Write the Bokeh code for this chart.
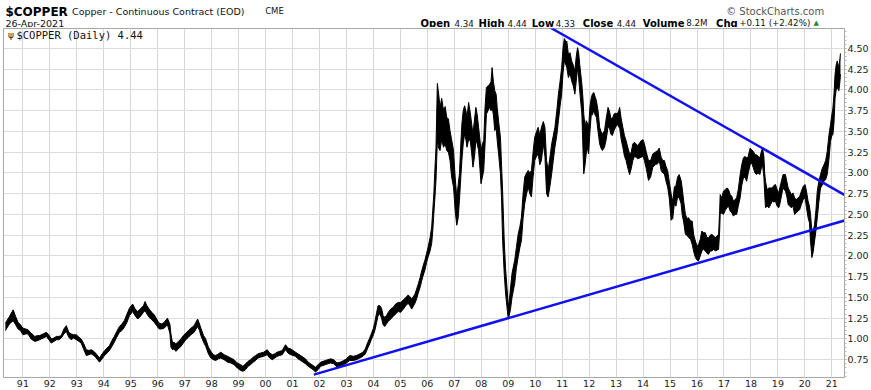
import numpy as np
from bokeh.plotting import figure
from bokeh.models import Label, FixedTicker, Range1d, ColumnDataSource
from bokeh.layouts import column
from bokeh.embed import file_html
from bokeh.resources import INLINE

# ---------------- data ----------------
# fractional year, daily low envelope, daily high envelope
dates = [
    1990.35, 1990.50, 1990.64, 1990.73, 1990.82, 1990.91, 1991.00, 1991.10, 1991.19, 1991.30,
    1991.44, 1991.55, 1991.62, 1991.75, 1991.87, 1991.96, 1992.05, 1992.15, 1992.24, 1992.33,
    1992.42, 1992.52, 1992.61, 1992.70, 1992.79, 1992.88, 1992.98, 1993.08, 1993.16, 1993.26,
    1993.35, 1993.45, 1993.53, 1993.63, 1993.72, 1993.84, 1993.94, 1994.03, 1994.12, 1994.21,
    1994.30, 1994.39, 1994.48, 1994.58, 1994.67, 1994.76, 1994.86, 1994.95, 1995.07, 1995.16,
    1995.26, 1995.38, 1995.47, 1995.53, 1995.60, 1995.68, 1995.78, 1995.87, 1995.96, 1996.05,
    1996.15, 1996.24, 1996.36, 1996.45, 1996.49, 1996.55, 1996.61, 1996.67, 1996.77, 1996.86,
    1996.95, 1997.04, 1997.14, 1997.23, 1997.35, 1997.48, 1997.55, 1997.60, 1997.70, 1997.78,
    1997.88, 1997.97, 1998.06, 1998.15, 1998.25, 1998.34, 1998.46, 1998.59, 1998.71, 1998.83,
    1998.95, 1999.07, 1999.16, 1999.26, 1999.35, 1999.44, 1999.54, 1999.63, 1999.72, 1999.81,
    1999.93, 2000.06, 2000.15, 2000.25, 2000.34, 2000.43, 2000.52, 2000.62, 2000.70, 2000.74,
    2000.83, 2000.93, 2001.02, 2001.11, 2001.20, 2001.30, 2001.39, 2001.48, 2001.58, 2001.67,
    2001.76, 2001.85, 2001.95, 2002.04, 2002.13, 2002.22, 2002.31, 2002.41, 2002.53, 2002.65,
    2002.77, 2002.90, 2003.00, 2003.12, 2003.25, 2003.37, 2003.50, 2003.61, 2003.70, 2003.79,
    2003.86, 2003.92, 2004.00, 2004.05, 2004.12, 2004.17, 2004.24, 2004.30, 2004.36, 2004.42,
    2004.48, 2004.55, 2004.64, 2004.73, 2004.82, 2004.92, 2005.01, 2005.11, 2005.20, 2005.29,
    2005.35, 2005.42, 2005.54, 2005.60, 2005.66, 2005.73, 2005.79, 2005.85, 2005.91, 2005.97,
    2006.03, 2006.10, 2006.16, 2006.20, 2006.24, 2006.28, 2006.32, 2006.37, 2006.42, 2006.47,
    2006.53, 2006.60, 2006.66, 2006.72, 2006.78, 2006.84, 2006.90, 2006.97, 2007.03, 2007.09,
    2007.14, 2007.19, 2007.24, 2007.28, 2007.33, 2007.38, 2007.43, 2007.47, 2007.53, 2007.59,
    2007.64, 2007.69, 2007.75, 2007.80, 2007.85, 2007.90, 2007.95, 2007.99, 2008.04, 2008.09,
    2008.14, 2008.19, 2008.25, 2008.31, 2008.36, 2008.40, 2008.45, 2008.50, 2008.55, 2008.59,
    2008.65, 2008.71, 2008.75, 2008.79, 2008.85, 2008.90, 2008.95, 2008.99, 2009.02, 2009.08,
    2009.14, 2009.24, 2009.30, 2009.37, 2009.43, 2009.49, 2009.55, 2009.61, 2009.68, 2009.74,
    2009.80, 2009.86, 2009.92, 2009.98, 2010.05, 2010.11, 2010.17, 2010.23, 2010.30, 2010.36,
    2010.42, 2010.48, 2010.55, 2010.61, 2010.67, 2010.73, 2010.80, 2010.86, 2010.92, 2010.98,
    2011.03, 2011.08, 2011.14, 2011.17, 2011.23, 2011.29, 2011.35, 2011.41, 2011.47, 2011.52,
    2011.57, 2011.61, 2011.65, 2011.73, 2011.77, 2011.80, 2011.85, 2011.89, 2011.94, 2011.98,
    2012.03, 2012.08, 2012.12, 2012.17, 2012.22, 2012.27, 2012.33, 2012.39, 2012.44, 2012.49,
    2012.57, 2012.63, 2012.70, 2012.75, 2012.80, 2012.86, 2012.92, 2012.98, 2013.04, 2013.10,
    2013.13, 2013.19, 2013.25, 2013.31, 2013.37, 2013.44, 2013.50, 2013.56, 2013.62, 2013.68,
    2013.74, 2013.80, 2013.87, 2013.93, 2014.00, 2014.05, 2014.12, 2014.20, 2014.28, 2014.36,
    2014.45, 2014.54, 2014.60, 2014.67, 2014.73, 2014.79, 2014.85, 2014.91, 2014.97, 2015.04,
    2015.10, 2015.16, 2015.22, 2015.28, 2015.34, 2015.41, 2015.45, 2015.51, 2015.57, 2015.63,
    2015.69, 2015.76, 2015.82, 2015.88, 2015.94, 2016.00, 2016.06, 2016.12, 2016.18, 2016.24,
    2016.31, 2016.37, 2016.43, 2016.49, 2016.55, 2016.62, 2016.68, 2016.74, 2016.80, 2016.84,
    2016.86, 2016.92, 2016.98, 2017.05, 2017.11, 2017.17, 2017.23, 2017.29, 2017.35, 2017.41,
    2017.47, 2017.53, 2017.60, 2017.66, 2017.72, 2017.78, 2017.84, 2017.90, 2017.97, 2018.03,
    2018.09, 2018.15, 2018.21, 2018.27, 2018.33, 2018.38, 2018.43, 2018.48, 2018.51, 2018.54,
    2018.60, 2018.67, 2018.73, 2018.79, 2018.85, 2018.91, 2018.97, 2019.03, 2019.07, 2019.13,
    2019.19, 2019.28, 2019.33, 2019.38, 2019.44, 2019.50, 2019.56, 2019.62, 2019.68, 2019.75,
    2019.81, 2019.87, 2019.94, 2020.01, 2020.06, 2020.12, 2020.17, 2020.21, 2020.26, 2020.31,
    2020.36, 2020.41, 2020.46, 2020.52, 2020.58, 2020.64, 2020.71, 2020.77, 2020.83, 2020.89,
    2020.95, 2021.00, 2021.04, 2021.08, 2021.12, 2021.16, 2021.20, 2021.26, 2021.30, 2021.32,
]
lows = [
    1.10, 1.18, 1.22, 1.17, 1.12, 1.10, 1.05, 1.06, 1.06, 1.00,
    0.97, 0.98, 0.99, 1.01, 1.03, 0.99, 0.95, 0.97, 0.99, 0.99,
    1.01, 1.06, 1.09, 1.02, 0.99, 1.01, 0.99, 0.97, 0.95, 0.87,
    0.80, 0.81, 0.82, 0.80, 0.77, 0.72, 0.76, 0.80, 0.83, 0.86,
    0.91, 0.96, 1.02, 1.08, 1.10, 1.14, 1.20, 1.28, 1.33, 1.28,
    1.24, 1.28, 1.32, 1.34, 1.30, 1.26, 1.23, 1.20, 1.16, 1.12,
    1.12, 1.13, 1.17, 1.07, 0.90, 0.87, 0.88, 0.85, 0.88, 0.91,
    0.95, 0.99, 1.02, 1.05, 1.08, 1.15, 1.10, 1.04, 0.96, 0.91,
    0.82, 0.77, 0.75, 0.74, 0.76, 0.77, 0.75, 0.72, 0.71, 0.69,
    0.65, 0.62, 0.61, 0.63, 0.67, 0.69, 0.72, 0.74, 0.77, 0.78,
    0.79, 0.81, 0.77, 0.75, 0.77, 0.79, 0.80, 0.81, 0.85, 0.87,
    0.83, 0.81, 0.80, 0.79, 0.76, 0.74, 0.72, 0.70, 0.67, 0.65,
    0.63, 0.60, 0.63, 0.67, 0.68, 0.69, 0.70, 0.71, 0.70, 0.66,
    0.67, 0.69, 0.71, 0.74, 0.74, 0.75, 0.77, 0.79, 0.82, 0.89,
    0.94, 0.99, 1.05, 1.10, 1.20, 1.28, 1.30, 1.25, 1.17, 1.15,
    1.18, 1.21, 1.24, 1.27, 1.30, 1.33, 1.32, 1.36, 1.40, 1.43,
    1.40, 1.36, 1.43, 1.48, 1.55, 1.62, 1.70, 1.77, 1.83, 1.92,
    1.99, 2.06, 2.15, 2.30, 2.51, 2.70, 2.91, 3.39, 3.30, 3.27,
    3.40, 3.31, 3.35, 3.27, 3.25, 3.15, 2.95, 2.83, 2.55, 2.37,
    2.45, 2.67, 2.95, 3.15, 3.35, 3.47, 3.40, 3.31, 3.40, 3.39,
    3.25, 3.07, 3.20, 3.39, 3.35, 3.27, 3.05, 2.87, 2.95, 3.03,
    3.35, 3.71, 3.75, 3.79, 3.75, 3.79, 3.70, 3.51, 3.55, 3.39,
    3.20, 2.99, 2.70, 2.19, 1.79, 1.55, 1.39, 1.27, 1.26, 1.35,
    1.50, 1.67, 1.85, 1.99, 2.10, 2.19, 2.45, 2.63, 2.75, 2.83,
    2.75, 2.71, 2.95, 3.15, 3.20, 3.23, 3.10, 3.15, 3.35, 3.20,
    2.75, 2.71, 2.85, 2.99, 3.15, 3.31, 3.45, 3.63, 3.80, 3.95,
    4.20, 4.35, 4.30, 4.27, 4.15, 4.20, 4.11, 4.05, 3.95, 4.10,
    4.27, 4.15, 3.99, 3.71, 3.30, 2.99, 3.10, 3.23, 3.30, 3.23,
    3.50, 3.71, 3.70, 3.75, 3.70, 3.67, 3.50, 3.35, 3.30, 3.27,
    3.31, 3.40, 3.55, 3.55, 3.47, 3.45, 3.51, 3.55, 3.59, 3.55,
    3.55, 3.40, 3.31, 3.20, 3.15, 3.05, 2.98, 3.05, 3.15, 3.20,
    3.19, 3.17, 3.18, 3.19, 3.20, 3.15, 3.05, 2.91, 2.95, 3.07,
    3.10, 3.11, 3.15, 3.03, 3.00, 2.99, 2.90, 2.83, 2.70, 2.43,
    2.45, 2.63, 2.60, 2.71, 2.70, 2.63, 2.50, 2.40, 2.26, 2.25,
    2.22, 2.20, 2.14, 2.05, 1.98, 1.95, 1.94, 2.00, 2.06, 2.08,
    2.06, 2.03, 2.02, 2.06, 2.06, 2.08, 2.06, 2.07, 2.08, 2.30,
    2.50, 2.52, 2.50, 2.55, 2.58, 2.60, 2.54, 2.52, 2.48, 2.50,
    2.50, 2.60, 2.70, 2.85, 2.94, 2.95, 2.90, 3.00, 3.10, 3.12,
    3.06, 3.00, 2.98, 3.00, 2.98, 3.05, 3.10, 2.95, 2.75, 2.58,
    2.60, 2.58, 2.62, 2.66, 2.65, 2.66, 2.60, 2.58, 2.62, 2.72,
    2.82, 2.78, 2.72, 2.62, 2.60, 2.58, 2.60, 2.50, 2.52, 2.54,
    2.56, 2.62, 2.68, 2.70, 2.58, 2.46, 2.40, 2.18, 1.98, 2.05,
    2.18, 2.30, 2.46, 2.65, 2.82, 2.85, 2.90, 2.92, 2.98, 3.15,
    3.38, 3.45, 3.46, 3.60, 3.90, 4.00, 4.03, 3.99, 4.10, 4.19,
]
highs = [
    1.19, 1.27, 1.35, 1.27, 1.20, 1.17, 1.13, 1.12, 1.11, 1.07,
    1.03, 1.04, 1.04, 1.06, 1.08, 1.05, 1.00, 1.01, 1.03, 1.03,
    1.04, 1.12, 1.16, 1.08, 1.06, 1.05, 1.05, 1.02, 1.00, 0.94,
    0.87, 0.86, 0.87, 0.85, 0.82, 0.77, 0.82, 0.86, 0.89, 0.92,
    0.98, 1.03, 1.09, 1.15, 1.18, 1.22, 1.30, 1.37, 1.42, 1.36,
    1.33, 1.37, 1.40, 1.45, 1.40, 1.36, 1.32, 1.29, 1.24, 1.19,
    1.18, 1.20, 1.25, 1.18, 1.06, 0.95, 0.96, 0.94, 0.97, 1.00,
    1.04, 1.07, 1.10, 1.13, 1.16, 1.24, 1.18, 1.13, 1.04, 1.00,
    0.90, 0.85, 0.81, 0.80, 0.82, 0.84, 0.81, 0.79, 0.77, 0.75,
    0.71, 0.69, 0.67, 0.70, 0.73, 0.75, 0.78, 0.80, 0.82, 0.83,
    0.84, 0.87, 0.83, 0.81, 0.82, 0.84, 0.85, 0.86, 0.91, 0.93,
    0.89, 0.88, 0.86, 0.84, 0.82, 0.80, 0.78, 0.76, 0.72, 0.70,
    0.68, 0.66, 0.69, 0.72, 0.73, 0.74, 0.75, 0.76, 0.75, 0.71,
    0.72, 0.74, 0.76, 0.80, 0.79, 0.80, 0.82, 0.84, 0.88, 0.96,
    1.01, 1.06, 1.13, 1.20, 1.32, 1.40, 1.40, 1.37, 1.28, 1.26,
    1.28, 1.32, 1.36, 1.38, 1.42, 1.44, 1.44, 1.47, 1.50, 1.53,
    1.51, 1.48, 1.54, 1.60, 1.66, 1.74, 1.82, 1.89, 1.95, 2.03,
    2.11, 2.22, 2.35, 2.55, 2.75, 3.05, 3.31, 4.08, 3.95, 3.79,
    3.90, 3.75, 3.80, 3.67, 3.65, 3.51, 3.40, 3.27, 2.95, 2.71,
    2.85, 2.99, 3.35, 3.59, 3.75, 3.81, 3.75, 3.67, 3.85, 3.73,
    3.60, 3.47, 3.65, 3.79, 3.70, 3.55, 3.40, 3.27, 3.35, 3.39,
    3.80, 4.03, 4.05, 4.07, 4.10, 4.27, 4.10, 3.99, 3.95, 3.79,
    3.60, 3.43, 3.10, 2.79, 2.19, 1.85, 1.63, 1.45, 1.40, 1.60,
    1.79, 1.95, 2.10, 2.27, 2.35, 2.47, 2.75, 2.95, 3.00, 3.03,
    3.00, 3.03, 3.25, 3.43, 3.50, 3.55, 3.45, 3.55, 3.62, 3.55,
    3.15, 3.03, 3.20, 3.35, 3.45, 3.55, 3.75, 3.95, 4.10, 4.27,
    4.50, 4.62, 4.58, 4.59, 4.43, 4.45, 4.35, 4.30, 4.23, 4.40,
    4.51, 4.45, 4.31, 4.07, 3.90, 3.71, 3.55, 3.63, 3.60, 3.55,
    3.80, 3.91, 3.95, 3.97, 3.92, 3.87, 3.75, 3.55, 3.50, 3.47,
    3.51, 3.65, 3.79, 3.75, 3.67, 3.65, 3.71, 3.72, 3.71, 3.75,
    3.79, 3.65, 3.55, 3.45, 3.39, 3.30, 3.23, 3.25, 3.35, 3.37,
    3.35, 3.33, 3.36, 3.39, 3.40, 3.35, 3.25, 3.15, 3.15, 3.23,
    3.25, 3.27, 3.30, 3.19, 3.15, 3.15, 3.08, 3.03, 2.90, 2.75,
    2.65, 2.83, 2.85, 2.95, 2.98, 2.91, 2.82, 2.65, 2.50, 2.45,
    2.46, 2.42, 2.42, 2.25, 2.18, 2.12, 2.14, 2.20, 2.30, 2.28,
    2.28, 2.22, 2.22, 2.25, 2.26, 2.24, 2.22, 2.24, 2.26, 2.55,
    2.74, 2.70, 2.78, 2.80, 2.82, 2.80, 2.74, 2.72, 2.66, 2.68,
    2.70, 2.80, 2.98, 3.10, 3.18, 3.20, 3.18, 3.20, 3.30, 3.28,
    3.26, 3.22, 3.22, 3.20, 3.18, 3.25, 3.30, 3.20, 3.00, 2.90,
    2.80, 2.82, 2.82, 2.82, 2.85, 2.86, 2.80, 2.76, 2.82, 2.90,
    2.98, 2.98, 2.90, 2.82, 2.78, 2.74, 2.76, 2.70, 2.68, 2.70,
    2.72, 2.78, 2.84, 2.86, 2.78, 2.66, 2.60, 2.50, 2.30, 2.30,
    2.38, 2.55, 2.78, 2.90, 2.98, 3.05, 3.10, 3.15, 3.26, 3.45,
    3.58, 3.70, 3.78, 3.95, 4.19, 4.30, 4.35, 4.27, 4.38, 4.44,
]

# hand-drawn trend lines (anchor points)
upper_trend_dates = [2010.57, 2021.50]
upper_trend_values = [4.75, 2.73]
lower_trend_dates = [2001.79, 2021.50]
lower_trend_values = [0.57, 2.43]

# axes
x_ticks = list(range(1991, 2022))
x_tick_labels = ["91", "92", "93", "94", "95", "96", "97", "98", "99", "00",
                 "01", "02", "03", "04", "05", "06", "07", "08", "09", "10",
                 "11", "12", "13", "14", "15", "16", "17", "18", "19", "20", "21"]
y_ticks = [0.75, 1.00, 1.25, 1.50, 1.75, 2.00, 2.25, 2.50, 2.75, 3.00,
           3.25, 3.50, 3.75, 4.00, 4.25, 4.50]
y_tick_labels = ["0.75", "1.00", "1.25", "1.50", "1.75", "2.00", "2.25", "2.50",
                 "2.75", "3.00", "3.25", "3.50", "3.75", "4.00", "4.25", "4.50"]

# ---------------- header strip (coordinates in pixels of the strip) ----------------
W = 871
HH = 27
hdr = figure(width=W, height=HH, output_backend="svg", toolbar_location=None,
             x_range=Range1d(0, W), y_range=Range1d(HH, 0),
             x_axis_type=None, y_axis_type=None,
             min_border_left=0, min_border_right=0, min_border_top=0, min_border_bottom=0)
hdr.outline_line_color = None
hdr.grid.visible = False
hdr.background_fill_color = "white"
hdr.border_fill_color = "white"

def hlab(txt, x, y, size, bold=False, color="#111111", align="left", font="DejaVu Sans"):
    hdr.add_layout(Label(x=x, y=y, text=txt, text_font=font, text_font_size=size,
                         text_font_style="bold" if bold else "normal",
                         text_color=color, text_align=align, text_baseline="alphabetic"))

L1 = 11
L2 = 22.5
hlab("$COPPER", 2, L1, "12px", bold=True, color="#000000")
hlab("Copper - Continuous Contract (EOD)", 71, L1 - 0.5, "9.5px")
hlab("CME", 271, L1 - 0.5, "8.5px")
hlab("26-Apr-2021", 2, L2, "9.5px")
hlab("\u00a9 StockCharts.com", 850, L1 - 0.5, "10px", color="#555555", align="right")

hlab("Open", 432, L2, "10px", bold=True, color="#000000")
hlab("4.34", 467, L2, "8.7px")
hlab("High", 492, L2, "10px", bold=True, color="#000000")
hlab("4.44", 522, L2, "8.7px")
hlab("Low", 547, L2, "10px", bold=True, color="#000000")
hlab("4.33", 572, L2, "8.7px")
hlab("Close", 600, L2, "10px", bold=True, color="#000000")
hlab("4.44", 635, L2, "8.7px")
hlab("Volume", 662, L2, "10px", bold=True, color="#000000")
hlab("8.2M", 707, L2, "8.7px")
hlab("Chg", 738, L2, "10px", bold=True, color="#000000")
hlab("+0.11 (+2.42%)", 762, L2, "8.7px")
hlab("\u25b2", 839, L2 - 0.5, "7px", color="#1e8c1e")

# ---------------- main chart ----------------
X0, X1 = 1990.28, 2021.47
Y0, Y1 = 0.535, 4.741

p = figure(width=W, height=362, output_backend="svg", toolbar_location=None,
           x_range=Range1d(X0, X1), y_range=Range1d(Y0, Y1),
           y_axis_location="right",
           min_border_left=3, min_border_right=0, min_border_top=1, min_border_bottom=0)
p.background_fill_color = "white"
p.border_fill_color = "white"
p.outline_line_color = "#a8a8a8"
p.outline_line_width = 1

p.xaxis.ticker = FixedTicker(ticks=x_ticks)
p.xaxis.major_label_overrides = {t: s for t, s in zip(x_ticks, x_tick_labels)}
minor_y = [round(v, 2) for v in np.arange(0.55, 4.75, 0.05)]
p.yaxis.ticker = FixedTicker(ticks=y_ticks, minor_ticks=minor_y)
p.yaxis.major_label_overrides = {t: s for t, s in zip(y_ticks, y_tick_labels)}
p.xgrid.grid_line_color = "#d6d6d6"
p.ygrid.grid_line_color = "#dcdcdc"

for ax in (p.xaxis, p.yaxis):
    ax.major_label_text_font = "DejaVu Sans"
    ax.major_label_text_font_size = "9.5px"
    ax.major_label_text_color = "#222222"

p.xaxis.axis_line_color = None
p.xaxis.major_tick_line_color = None
p.xaxis.minor_tick_line_color = None
p.xaxis.major_tick_out = 0
p.xaxis.major_tick_in = 0
p.xaxis.minor_tick_out = 0
p.xaxis.major_label_standoff = 2

p.yaxis.axis_line_color = "#a8a8a8"
p.yaxis.major_tick_line_color = "#a8a8a8"
p.yaxis.major_tick_out = 2
p.yaxis.major_tick_in = 0
p.yaxis.minor_tick_line_color = "#b8b8b8"
p.yaxis.minor_tick_out = 2
p.yaxis.minor_tick_in = 0
p.yaxis.major_label_standoff = 1

# price series: daily high-low envelope
src = ColumnDataSource(dict(x=dates, lo=lows, hi=highs))
p.varea(x="x", y1="lo", y2="hi", source=src, fill_color="black")
p.line(x="x", y="lo", source=src, line_color="black", line_width=1)
p.line(x="x", y="hi", source=src, line_color="black", line_width=1)

# trend lines
p.line(upper_trend_dates, upper_trend_values, line_color="#1010f0", line_width=2.5)
p.line(lower_trend_dates, lower_trend_values, line_color="#1010f0", line_width=2.5)

# series caption inside the plot (top-left)
cap_y = Y1 - 6.5 / 348.0 * (Y1 - Y0)
p.add_layout(Label(x=X0 + 4.5 / 844.0 * (X1 - X0), y=cap_y, text="\u03c8", text_font="DejaVu Sans",
                   text_font_size="9px", text_color="#222222", text_baseline="alphabetic"))
p.add_layout(Label(x=X0 + 13.0 / 844.0 * (X1 - X0), y=cap_y, text="$COPPER (Daily) 4.44",
                   text_font="DejaVu Sans Mono", text_font_size="10.5px", text_color="#111111",
                   text_baseline="alphabetic"))

layout = column(hdr, p, spacing=0)
open("out.html", "w").write(file_html(layout, INLINE))
